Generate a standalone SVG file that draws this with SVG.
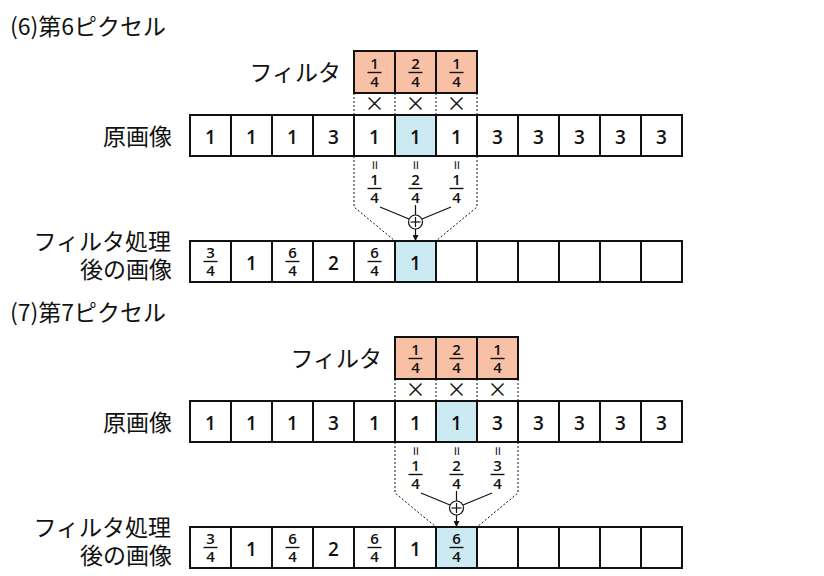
<svg xmlns="http://www.w3.org/2000/svg" width="824" height="576" viewBox="0 0 824 576">
<defs>
<style>
.cell{fill:#fff;stroke:#111;stroke-width:2}
.flt{fill:#F8C1A5;stroke:#111;stroke-width:2}
.hl{fill:#CBEAF2;stroke:#111;stroke-width:2}
.big{font-family:"Open Sans","Noto Sans",sans-serif;font-size:19px;font-weight:600;fill:#111;text-anchor:middle}
.fr{font-family:"Open Sans","Noto Sans",sans-serif;font-size:15px;font-weight:600;fill:#111;text-anchor:middle}
.jp{font-family:"Noto Sans CJK JP",sans-serif;font-size:23px;font-weight:400;fill:#111}
.end{text-anchor:end}
.fl{stroke:#111;stroke-width:1.4}
.dot{fill:none;stroke:#111;stroke-width:1;stroke-dasharray:2 2}
.ln{fill:none;stroke:#111;stroke-width:1.2}
.mul{font-family:"Noto Sans CJK JP",sans-serif;font-size:20px;font-weight:400;fill:#111;text-anchor:middle}
.eq{font-family:"Open Sans","Noto Sans",sans-serif;font-size:17px;fill:#111;text-anchor:middle}
</style>
<marker id="arr" viewBox="0 0 10 10" refX="10" refY="5" markerWidth="6" markerHeight="6" orient="auto" markerUnits="userSpaceOnUse">
<path d="M0,0 L10,5 L0,10 z" fill="#111"/>
</marker>
</defs>
<rect width="824" height="576" fill="#fff"/>

<!-- ===== Section 6 ===== -->
<g id="sec6">
<text id="title6" class="jp" x="10" y="35">(6)第6ピクセル</text>

<g id="filter6">
<text class="jp end" x="341" y="81">フィルタ</text>
<rect class="flt" x="354" y="51" width="41" height="42"/>
<rect class="flt" x="395" y="51" width="41" height="42"/>
<rect class="flt" x="436" y="51" width="41" height="42"/>
<text class="fr" x="374.5" y="69">1</text><line class="fl" x1="367.5" y1="72.5" x2="381.5" y2="72.5"/><text class="fr" x="374.5" y="87">4</text>
<text class="fr" x="415.5" y="69">2</text><line class="fl" x1="408.5" y1="72.5" x2="422.5" y2="72.5"/><text class="fr" x="415.5" y="87">4</text>
<text class="fr" x="456.5" y="69">1</text><line class="fl" x1="449.5" y1="72.5" x2="463.5" y2="72.5"/><text class="fr" x="456.5" y="87">4</text>
<text class="mul" x="374.5" y="111">×</text>
<text class="mul" x="415.5" y="111">×</text>
<text class="mul" x="456.5" y="111">×</text>
</g>

<g id="orig6">
<text class="jp end" x="172" y="145">原画像</text>
<rect class="cell" x="190" y="115" width="41" height="41"/>
<rect class="cell" x="231" y="115" width="41" height="41"/>
<rect class="cell" x="272" y="115" width="41" height="41"/>
<rect class="cell" x="313" y="115" width="41" height="41"/>
<rect class="cell" x="354" y="115" width="41" height="41"/>
<rect class="hl" x="395" y="115" width="41" height="41"/>
<rect class="cell" x="436" y="115" width="41" height="41"/>
<rect class="cell" x="477" y="115" width="41" height="41"/>
<rect class="cell" x="518" y="115" width="41" height="41"/>
<rect class="cell" x="559" y="115" width="41" height="41"/>
<rect class="cell" x="600" y="115" width="41" height="41"/>
<rect class="cell" x="641" y="115" width="41" height="41"/>
<text class="big" x="210.5" y="143.5">1</text>
<text class="big" x="251.5" y="143.5">1</text>
<text class="big" x="292.5" y="143.5">1</text>
<text class="big" x="333.5" y="143.5">3</text>
<text class="big" x="374.5" y="143.5">1</text>
<text class="big" x="415.5" y="143.5">1</text>
<text class="big" x="456.5" y="143.5">1</text>
<text class="big" x="497.5" y="143.5">3</text>
<text class="big" x="538.5" y="143.5">3</text>
<text class="big" x="579.5" y="143.5">3</text>
<text class="big" x="620.5" y="143.5">3</text>
<text class="big" x="661.5" y="143.5">3</text>
</g>

<g id="prod6">
<text class="eq" transform="translate(374.5,165) rotate(90)" y="5.5">=</text>
<text class="eq" transform="translate(415.5,165) rotate(90)" y="5.5">=</text>
<text class="eq" transform="translate(456.5,165) rotate(90)" y="5.5">=</text>
<text class="fr" x="374.5" y="185">1</text><line class="fl" x1="367.5" y1="188.5" x2="381.5" y2="188.5"/><text class="fr" x="374.5" y="203">4</text>
<text class="fr" x="415.5" y="185">2</text><line class="fl" x1="408.5" y1="188.5" x2="422.5" y2="188.5"/><text class="fr" x="415.5" y="203">4</text>
<text class="fr" x="456.5" y="185">1</text><line class="fl" x1="449.5" y1="188.5" x2="463.5" y2="188.5"/><text class="fr" x="456.5" y="203">4</text>
</g>

<g id="sum6">
<circle cx="415.5" cy="222" r="7" fill="#fff" stroke="#111" stroke-width="1.2"/>
<line class="ln" x1="410.5" y1="222" x2="420.5" y2="222"/>
<line class="ln" x1="415.5" y1="217" x2="415.5" y2="227"/>
</g>

<g id="out6">
<text class="jp end" x="171" y="250">フィルタ処理</text>
<text class="jp end" x="172" y="278">後の画像</text>
<rect class="cell" x="190" y="241" width="41" height="41"/>
<rect class="cell" x="231" y="241" width="41" height="41"/>
<rect class="cell" x="272" y="241" width="41" height="41"/>
<rect class="cell" x="313" y="241" width="41" height="41"/>
<rect class="cell" x="354" y="241" width="41" height="41"/>
<rect class="hl" x="395" y="241" width="41" height="41"/>
<rect class="cell" x="436" y="241" width="41" height="41"/>
<rect class="cell" x="477" y="241" width="41" height="41"/>
<rect class="cell" x="518" y="241" width="41" height="41"/>
<rect class="cell" x="559" y="241" width="41" height="41"/>
<rect class="cell" x="600" y="241" width="41" height="41"/>
<rect class="cell" x="641" y="241" width="41" height="41"/>
<text class="fr" x="210.5" y="258">3</text><line class="fl" x1="203.5" y1="261.5" x2="217.5" y2="261.5"/><text class="fr" x="210.5" y="276">4</text>
<text class="big" x="251.5" y="269.5">1</text>
<text class="fr" x="292.5" y="258">6</text><line class="fl" x1="285.5" y1="261.5" x2="299.5" y2="261.5"/><text class="fr" x="292.5" y="276">4</text>
<text class="big" x="333.5" y="269.5">2</text>
<text class="fr" x="374.5" y="258">6</text><line class="fl" x1="367.5" y1="261.5" x2="381.5" y2="261.5"/><text class="fr" x="374.5" y="276">4</text>
<text class="big" x="415.5" y="269.5">1</text>
</g>
</g>

<!-- ===== Section 7 ===== -->
<g id="sec7">
<text id="title7" class="jp" x="10" y="321">(7)第7ピクセル</text>

<g id="filter7">
<text class="jp end" x="382" y="367">フィルタ</text>
<rect class="flt" x="395" y="337" width="41" height="42"/>
<rect class="flt" x="436" y="337" width="41" height="42"/>
<rect class="flt" x="477" y="337" width="41" height="42"/>
<text class="fr" x="415.5" y="355">1</text><line class="fl" x1="408.5" y1="358.5" x2="422.5" y2="358.5"/><text class="fr" x="415.5" y="373">4</text>
<text class="fr" x="456.5" y="355">2</text><line class="fl" x1="449.5" y1="358.5" x2="463.5" y2="358.5"/><text class="fr" x="456.5" y="373">4</text>
<text class="fr" x="497.5" y="355">1</text><line class="fl" x1="490.5" y1="358.5" x2="504.5" y2="358.5"/><text class="fr" x="497.5" y="373">4</text>
<text class="mul" x="415.5" y="397">×</text>
<text class="mul" x="456.5" y="397">×</text>
<text class="mul" x="497.5" y="397">×</text>
</g>

<g id="orig7">
<text class="jp end" x="172" y="431">原画像</text>
<rect class="cell" x="190" y="401" width="41" height="41"/>
<rect class="cell" x="231" y="401" width="41" height="41"/>
<rect class="cell" x="272" y="401" width="41" height="41"/>
<rect class="cell" x="313" y="401" width="41" height="41"/>
<rect class="cell" x="354" y="401" width="41" height="41"/>
<rect class="cell" x="395" y="401" width="41" height="41"/>
<rect class="hl" x="436" y="401" width="41" height="41"/>
<rect class="cell" x="477" y="401" width="41" height="41"/>
<rect class="cell" x="518" y="401" width="41" height="41"/>
<rect class="cell" x="559" y="401" width="41" height="41"/>
<rect class="cell" x="600" y="401" width="41" height="41"/>
<rect class="cell" x="641" y="401" width="41" height="41"/>
<text class="big" x="210.5" y="429.5">1</text>
<text class="big" x="251.5" y="429.5">1</text>
<text class="big" x="292.5" y="429.5">1</text>
<text class="big" x="333.5" y="429.5">3</text>
<text class="big" x="374.5" y="429.5">1</text>
<text class="big" x="415.5" y="429.5">1</text>
<text class="big" x="456.5" y="429.5">1</text>
<text class="big" x="497.5" y="429.5">3</text>
<text class="big" x="538.5" y="429.5">3</text>
<text class="big" x="579.5" y="429.5">3</text>
<text class="big" x="620.5" y="429.5">3</text>
<text class="big" x="661.5" y="429.5">3</text>
</g>

<g id="prod7">
<text class="eq" transform="translate(415.5,451) rotate(90)" y="5.5">=</text>
<text class="eq" transform="translate(456.5,451) rotate(90)" y="5.5">=</text>
<text class="eq" transform="translate(497.5,451) rotate(90)" y="5.5">=</text>
<text class="fr" x="415.5" y="471">1</text><line class="fl" x1="408.5" y1="474.5" x2="422.5" y2="474.5"/><text class="fr" x="415.5" y="489">4</text>
<text class="fr" x="456.5" y="471">2</text><line class="fl" x1="449.5" y1="474.5" x2="463.5" y2="474.5"/><text class="fr" x="456.5" y="489">4</text>
<text class="fr" x="497.5" y="471">3</text><line class="fl" x1="490.5" y1="474.5" x2="504.5" y2="474.5"/><text class="fr" x="497.5" y="489">4</text>
</g>

<g id="sum7">
<circle cx="456.5" cy="508" r="7" fill="#fff" stroke="#111" stroke-width="1.2"/>
<line class="ln" x1="451.5" y1="508" x2="461.5" y2="508"/>
<line class="ln" x1="456.5" y1="503" x2="456.5" y2="513"/>
</g>

<g id="out7">
<text class="jp end" x="171" y="536">フィルタ処理</text>
<text class="jp end" x="172" y="564">後の画像</text>
<rect class="cell" x="190" y="527" width="41" height="41"/>
<rect class="cell" x="231" y="527" width="41" height="41"/>
<rect class="cell" x="272" y="527" width="41" height="41"/>
<rect class="cell" x="313" y="527" width="41" height="41"/>
<rect class="cell" x="354" y="527" width="41" height="41"/>
<rect class="cell" x="395" y="527" width="41" height="41"/>
<rect class="hl" x="436" y="527" width="41" height="41"/>
<rect class="cell" x="477" y="527" width="41" height="41"/>
<rect class="cell" x="518" y="527" width="41" height="41"/>
<rect class="cell" x="559" y="527" width="41" height="41"/>
<rect class="cell" x="600" y="527" width="41" height="41"/>
<rect class="cell" x="641" y="527" width="41" height="41"/>
<text class="fr" x="210.5" y="544">3</text><line class="fl" x1="203.5" y1="547.5" x2="217.5" y2="547.5"/><text class="fr" x="210.5" y="562">4</text>
<text class="big" x="251.5" y="555.5">1</text>
<text class="fr" x="292.5" y="544">6</text><line class="fl" x1="285.5" y1="547.5" x2="299.5" y2="547.5"/><text class="fr" x="292.5" y="562">4</text>
<text class="big" x="333.5" y="555.5">2</text>
<text class="fr" x="374.5" y="544">6</text><line class="fl" x1="367.5" y1="547.5" x2="381.5" y2="547.5"/><text class="fr" x="374.5" y="562">4</text>
<text class="big" x="415.5" y="555.5">1</text>
<text class="fr" x="456.5" y="544">6</text><line class="fl" x1="449.5" y1="547.5" x2="463.5" y2="547.5"/><text class="fr" x="456.5" y="562">4</text>
</g>
</g>

<!-- ===== Connectors ===== -->
<g id="connectors">
<path class="dot" d="M354,93 V115 M395,93 V115 M436,93 V115 M477,93 V115"/>
<path class="dot" d="M354,156 V207 L395,241 M477,156 V207 L436,241"/>
<path class="ln" d="M380,207 L409,219 M451,207 L422,219 M415.5,205 V215"/>
<path class="ln" d="M415.5,229 V241" marker-end="url(#arr)"/>

<path class="dot" d="M395,379 V401 M436,379 V401 M477,379 V401 M518,379 V401"/>
<path class="dot" d="M395,442 V493 L436,527 M518,442 V493 L477,527"/>
<path class="ln" d="M421,493 L450,505 M492,493 L463,505 M456.5,491 V501"/>
<path class="ln" d="M456.5,515 V527" marker-end="url(#arr)"/>
</g>
</svg>
